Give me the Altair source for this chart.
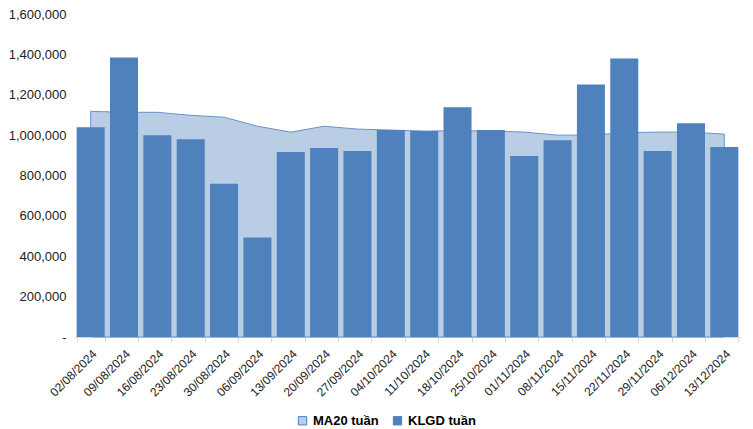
import altair as alt
import pandas as pd

weeks = ["02/08/2024", "09/08/2024", "16/08/2024", "23/08/2024", "30/08/2024",
         "06/09/2024", "13/09/2024", "20/09/2024", "27/09/2024", "04/10/2024",
         "11/10/2024", "18/10/2024", "25/10/2024", "01/11/2024", "08/11/2024",
         "15/11/2024", "22/11/2024", "29/11/2024", "06/12/2024", "13/12/2024"]
klgd = [1039000, 1384000, 1000000, 980000, 759000, 493000, 916000, 936000, 921000, 1025000,
        1020000, 1138000, 1025000, 897000, 975000, 1251000, 1379000, 921000, 1059000, 941000]
ma20 = [1118000, 1113000, 1113000, 1098000, 1089000, 1044000, 1015000, 1044000, 1030000, 1025000,
        1020000, 1022000, 1020000, 1015000, 1000000, 1000000, 1012000, 1015000, 1015000, 1005000]

df = pd.DataFrame({"week": weeks, "klgd": klgd, "ma20": ma20})

FONT = "Liberation Sans"
TXT = "#222222"

xscale = alt.Scale(paddingInner=0.16, paddingOuter=0.08)
xaxis = alt.Axis(title=None, labelAngle=-45, labelFontSize=12, labelFont=FONT, labelColor=TXT,
                 tickBand="extent", tickColor="#D9D9D9", domainColor="#D9D9D9", tickSize=5,
                 labelPadding=6)
yscale = alt.Scale(domain=[0, 1600000])
yaxis = alt.Axis(title=None, values=[0, 200000, 400000, 600000, 800000, 1000000, 1200000, 1400000, 1600000],
                 labelExpr="datum.value == 0 ? '-' : format(datum.value, ',')",
                 labelFontSize=13, labelFont=FONT, labelColor=TXT, ticks=False, domain=False,
                 grid=False, labelPadding=8)

color = alt.Scale(domain=["MA20 tuần", "KLGD tuần"], range=["#B9CDE5", "#4F81BD"])
legend = alt.Legend(title=None, orient="none", legendX=222, legendY=400, direction="horizontal",
                    symbolType="square", symbolSize=70, symbolStrokeColor="#4F81BD",
                    symbolStrokeWidth=1, labelFont=FONT, labelFontSize=13, labelFontWeight="bold",
                    labelColor="#000000", columnPadding=12)

base = alt.Chart(df)

area = base.mark_area(stroke="#6A93C9", strokeWidth=1, opacity=1).transform_calculate(
    series="'MA20 tuần'"
).encode(
    x=alt.X("week:N", sort=None, scale=xscale, axis=xaxis, bandPosition=0.5),
    y=alt.Y("ma20:Q", scale=yscale, axis=yaxis),
    color=alt.Color("series:N", scale=color, legend=legend, sort=["MA20 tuần", "KLGD tuần"]),
)

bars = base.mark_bar(opacity=1).transform_calculate(
    series="'KLGD tuần'"
).encode(
    x=alt.X("week:N", sort=None, scale=xscale, axis=xaxis),
    y=alt.Y("klgd:Q", scale=yscale, axis=yaxis),
    color=alt.Color("series:N", scale=color, legend=legend, sort=["MA20 tuần", "KLGD tuần"]),
)

chart = alt.layer(area, bars).properties(
    width=667, height=323, background="white",
    padding={"left": 0, "top": 0, "right": 0, "bottom": 0}
).configure_view(stroke=None)

chart.save("out.html", embed_options={"renderer": "svg", "actions": False})
